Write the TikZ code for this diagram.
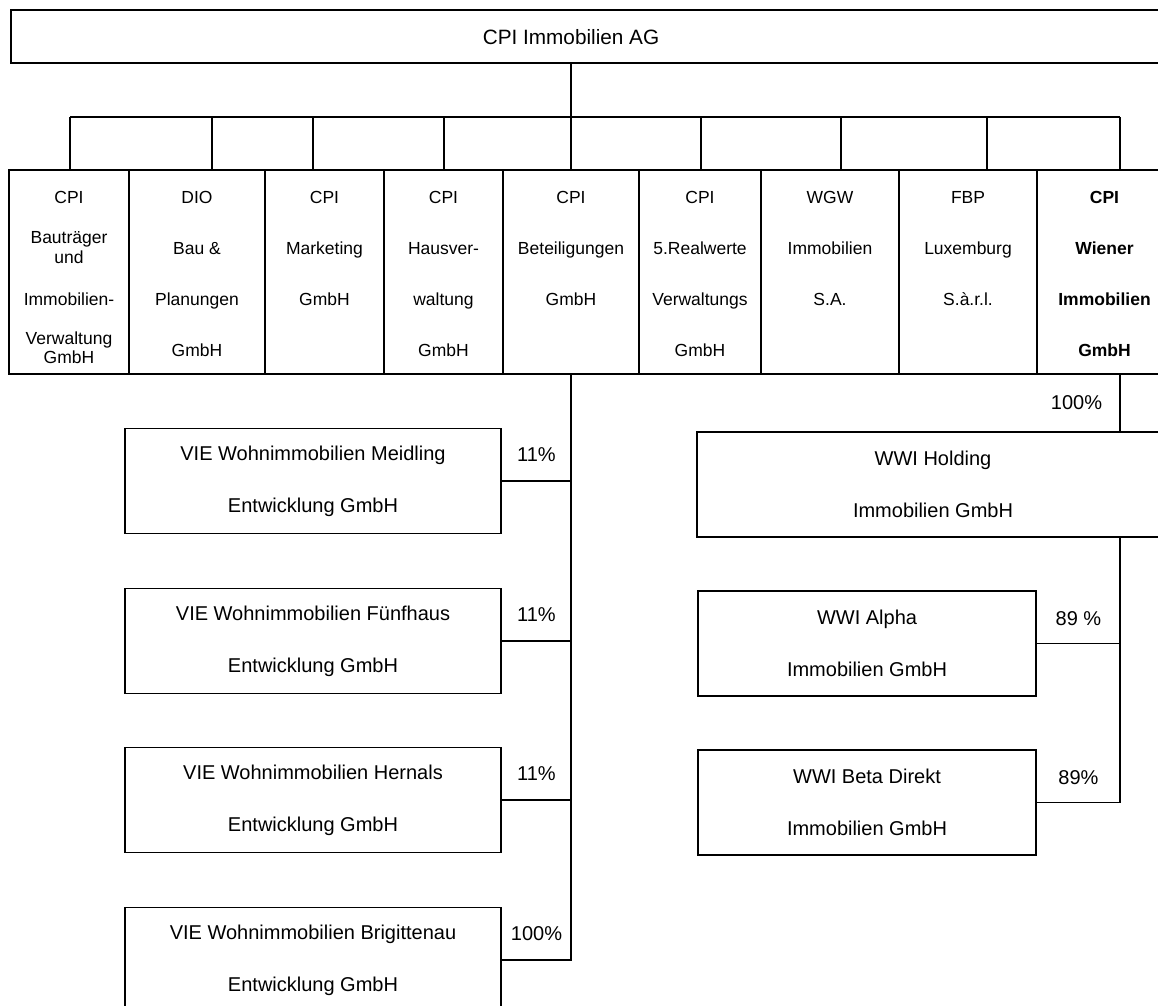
\documentclass[tikz,border=0pt]{standalone}
\usepackage{fontspec}
\setmainfont{Liberation Sans}
\usetikzlibrary{positioning}

\begin{document}
\begin{tikzpicture}[x=0.02cm, y=-0.02cm, line width=1.1pt,
			orgbox/.style={draw, inner sep=0},
			unitbox/.style={orgbox, minimum height=4.08cm},
			unittext/.style={inner sep=0, align=center, font=\fontsize{0.35cm}{1.02cm}\selectfont},
			unitbold/.style={unittext, font=\fontsize{0.35cm}{1.02cm}\selectfont\bfseries},
			subbox/.style={orgbox, minimum height=2.1cm, align=center, font=\fontsize{0.4cm}{1.04cm}\selectfont},
			pct/.style={inner sep=0, font=\fontsize{0.4cm}{0.48cm}\selectfont}]
			\useasboundingbox (0,0) rectangle (1158,1005);
			\clip (0,0) rectangle (1158,1005);
			\node[orgbox, minimum width=23.4cm, minimum height=1.06cm] (ag) at (596,36.5) {};
			\node[inner sep=0, font=\fontsize{0.415cm}{0.5cm}\selectfont] (agname) at (571,37) {CPI Immobilien AG};
			\node[shape=coordinate] (b1) at (  70,117) {};
			\node[shape=coordinate] (b2) at ( 212,117) {};
			\node[shape=coordinate] (b3) at ( 313,117) {};
			\node[shape=coordinate] (b4) at ( 444,117) {};
			\node[shape=coordinate] (b5) at ( 571,117) {};
			\node[shape=coordinate] (b6) at ( 701,117) {};
			\node[shape=coordinate] (b7) at ( 841,117) {};
			\node[shape=coordinate] (b8) at ( 987,117) {};
			\node[shape=coordinate] (b9) at (1120,117) {};
			\node[unitbox, minimum width=2.4cm]  (bau)  at (  69,272) {};
			\node[unitbox, minimum width=2.72cm] (dio)  at ( 197,272) {};
			\node[unitbox, minimum width=2.38cm] (mkt)  at (324.5,272) {};
			\node[unitbox, minimum width=2.38cm] (hv)   at (443.5,272) {};
			\node[unitbox, minimum width=2.72cm] (bet)  at ( 571,272) {};
			\node[unitbox, minimum width=2.44cm] (rw)   at ( 700,272) {};
			\node[unitbox, minimum width=2.76cm] (wgw)  at ( 830,272) {};
			\node[unitbox, minimum width=2.76cm] (fbp)  at ( 968,272) {};
			\node[unitbox, minimum width=2.7cm]  (wien) at (1104.5,272) {};
			\node[unittext, below=0.42cm of bau.north]  (bautext)  {CPI\\[-0.22cm]Bauträger\\[-0.62cm]und\\[-0.18cm]Immobilien-\\[-0.24cm]Verwaltung\\[-0.64cm]GmbH};
			\node[unittext, below=0.42cm of dio.north]  (diotext)  {DIO\\Bau \&\\Planungen\\GmbH};
			\node[unittext, below=0.42cm of mkt.north]  (mkttext)  {CPI\\Marketing\\GmbH};
			\node[unittext, below=0.42cm of hv.north]   (hvtext)   {CPI\\Hausver-\\waltung\\GmbH};
			\node[unittext, below=0.42cm of bet.north]  (bettext)  {CPI\\Beteiligungen\\GmbH};
			\node[unittext, below=0.42cm of rw.north]   (rwtext)   {CPI\\5.Realwerte\\Verwaltungs\\GmbH};
			\node[unittext, below=0.42cm of wgw.north]  (wgwtext)  {WGW\\Immobilien\\S.A.};
			\node[unittext, below=0.42cm of fbp.north]  (fbptext)  {FBP\\Luxemburg\\S.à.r.l.};
			\node[unitbold, below=0.42cm of wien.north] (wientext) {CPI\\Wiener\\Immobilien\\GmbH};
			\node[subbox, minimum width=7.52cm] (meid)  at (313,481) {VIE Wohnimmobilien Meidling\\Entwicklung GmbH};
			\node[subbox, minimum width=7.52cm] (fuenf) at (313,641) {VIE Wohnimmobilien Fünfhaus\\Entwicklung GmbH};
			\node[subbox, minimum width=7.52cm] (hern)  at (313,800) {VIE Wohnimmobilien Hernals\\Entwicklung GmbH};
			\node[subbox, minimum width=7.52cm] (brig)  at (313,960) {VIE Wohnimmobilien Brigittenau\\Entwicklung GmbH};
			\node[subbox, minimum width=9.44cm] (hold)  at (933,484.5) {WWI Holding\\Immobilien GmbH};
			\node[subbox, minimum width=6.76cm] (alpha) at (867,643.5) {WWI Alpha\\Immobilien GmbH};
			\node[subbox, minimum width=6.76cm] (beta)  at (867,802.5) {WWI Beta Direkt\\Immobilien GmbH};
			\draw (agname |- ag.south) -- (b5);
			\draw (b1) -- (b9);
			\draw (b1) -- (b1 |- bau.north);
			\draw (b2) -- (b2 |- dio.north);
			\draw (b3) -- (b3 |- mkt.north);
			\draw (b4) -- (b4 |- hv.north);
			\draw (b5) -- (bet.north);
			\draw (b6) -- (b6 |- rw.north);
			\draw (b7) -- (b7 |- wgw.north);
			\draw (b8) -- (b8 |- fbp.north);
			\draw (b9) -- (b9 |- wien.north);
			\draw (bet.south) -- (bet.south |- brig.east) -- (brig.east) node[pct, midway, yshift=0.52cm] {100\%};
			\draw (meid.east) -- (meid.east -| bet.south) node[pct, midway, yshift=0.52cm] {11\%};
			\draw (fuenf.east) -- (fuenf.east -| bet.south) node[pct, midway, yshift=0.52cm] {11\%};
			\draw (hern.east) -- (hern.east -| bet.south) node[pct, midway, yshift=0.52cm] {11\%};
			\draw (b9 |- wien.south) -- (b9 |- hold.north) node[pct, midway, left=0.34cm] {100\%};
			\draw (b9 |- hold.south) -- (b9 |- beta.east) -- (beta.east) node[pct, midway, yshift=0.5cm] {89\%};
			\draw (alpha.east) -- (alpha.east -| b9) node[pct, midway, yshift=0.5cm] {89 \%};
		\end{tikzpicture}
\end{document}
